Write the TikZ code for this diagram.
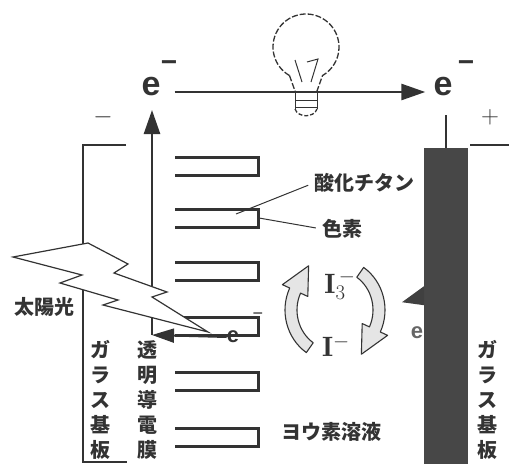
\documentclass[tikz,border=0pt]{standalone}
\usepackage{fontspec}
\setsansfont{Liberation Sans}
\newfontfamily\jp{Noto Sans CJK JP}
\usetikzlibrary{arrows.meta}

\begin{document}
\begin{tikzpicture}[x=1pt,y=-1pt,
	every node/.style={inner sep=0pt,text=black!80},
	wire/.style={draw=black!80,line width=1.4pt},
	slab/.style={draw=black!80,line width=3pt},
	flow/.style={wire,line width=2.6pt,-{Triangle[length=24pt,width=16pt]}},
	turn/.style={draw=black!80,line width=1.1pt,fill=gray!20,line join=round},
	bigsans/.style={font=\sffamily\bfseries\fontsize{34}{34}\selectfont},
	smallsans/.style={font=\sffamily\bfseries\fontsize{22}{22}\selectfont},
	jtext/.style={font=\jp\bfseries\fontsize{20}{25}\selectfont},
	vtext/.style={jtext,align=center},
	]
	\useasboundingbox (0,0) rectangle (509,464);

	% electrons on the outer circuit
	\node[bigsans] (eL) at (151,87) {e};
	\node[bigsans] (eR) at (443,87) {e};
	\node[font=\sffamily\bfseries\fontsize{28}{28}\selectfont] (qL) at (169,66) {−};
	\node[font=\sffamily\bfseries\fontsize{28}{28}\selectfont] (qR) at (466,66) {−};
	\node[font=\fontsize{26}{26}\selectfont] (neg) at (103,117) {$-$};
	\node[font=\fontsize{26}{26}\selectfont] (pos) at (490,117) {$+$};
	\draw[flow,shorten <=14pt,shorten >=8pt] ([yshift=-5pt]eL.east) -- ([yshift=-5pt]eR.west);

	% lamp
	\begin{scope}[shift={(306,47)},black!80,line width=1.3pt]
		\draw[dash pattern=on 6pt off 2pt] (120:33) arc[start angle=120,end angle=420,radius=33] -- (11,44);
		\draw[dash pattern=on 6pt off 2pt] (120:33) -- (-11,44);
		\draw[line width=1pt] (-11,44) -- (-11,62) (11,44) -- (11,62);
		\draw[line width=1pt] (-11,53) -- (11,53) (-11,60) -- (11,60);
		\draw[dash pattern=on 4pt off 2pt] (-11,62) .. controls (-8,71) and (8,71) .. (11,62);
		\draw[line width=1pt] (-11,13) -- (-4,35) (1,15) -- (12,12) -- (5,35);
	\end{scope}

	% glass plates and counter electrode
	\draw[wire] (126,145) -- (83,145) -- (83,462) -- (127,462);
	\draw[wire] (470,145) -- (509,145);
	\node[smallsans,text=black!60] (eC) at (417,333) {e};
	\node[fill=black!72,minimum width=44pt,minimum height=316pt,anchor=north west] (TE) at (424,148) {};
	\draw[wire,line width=2.5pt] (TE.north) -- ++(0,-33);
	\fill[black!75] ([yshift=20pt]TE.west) -- ++(-22,16) -- ++(22,3) -- cycle;

	% transparent film with the electron path
	\coordinate (foot) at (152,335);
	\coordinate (head) at (152,110);
	\draw[flow] (foot) -- (head);

	% titania layers
	\foreach \y in {157,209,262,317,372,428}
		\draw[slab] (175,\y) -- (258,\y) -- (258,\y+18) -- (175,\y+18);

	% sunlight
	\draw[wire,fill=white,line width=1.2pt] (13,257) -- (88,243) -- (128,264) -- (114,273) -- (167,292)
		-- (152,297) -- (208,332) -- (103,305) -- (118,300) -- (60,283) -- (82,275) -- cycle;
	\node[jtext] (sun) at (44,307) {太陽光};

	\node[smallsans] (eB) at (233,337) {e};
	\node[font=\sffamily\fontsize{18}{18}\selectfont] (qB) at (258,316) {−};
	\draw[flow,line width=2pt,-{Triangle[length=22pt,width=14pt]}] (eB.west) -- (foot);

	% redox cycle
	\node[font=\bfseries\fontsize{28}{28}\selectfont] (tri) at (340,285) {$\mathbf{I}_3^{\,-}$};
	\node[font=\bfseries\fontsize{28}{28}\selectfont] (mono) at (336,346) {$\mathbf{I}^-$};
	\foreach \r in {0,180}{
		\begin{scope}[shift={(335,310)},rotate=\r]
			\draw[turn] (125:50 and 52) arc[start angle=125,end angle=205,x radius=50,y radius=52]
				-- (205:58 and 60) -- (235:46 and 54) -- (205:30 and 32) -- (205:38 and 40)
				arc[start angle=205,end angle=125,x radius=38,y radius=40] -- cycle;
		\end{scope}
	}

	% labels
	\coordinate (tio2pt) at (236,214);
	\coordinate (dyept) at (259,218);
	\node[jtext] (tio2) at (364,183) {酸化チタン};
	\node[jtext] (dye) at (342,229) {色素};
	\draw[wire,line width=1pt,shorten <=6pt] (tio2.west) -- (tio2pt);
	\draw[wire,line width=1pt,shorten <=6pt] (dye.west) -- (dyept);
	\node[jtext] (sol) at (331,432) {ヨウ素溶液};
	\node[vtext] (glassL) at (100,400) {ガ\\ラ\\ス\\基\\板};
	\node[vtext] (film) at (147,400) {透\\明\\導\\電\\膜};
	\node[vtext] (glassR) at (487,400) {ガ\\ラ\\ス\\基\\板};
\end{tikzpicture}
\end{document}
